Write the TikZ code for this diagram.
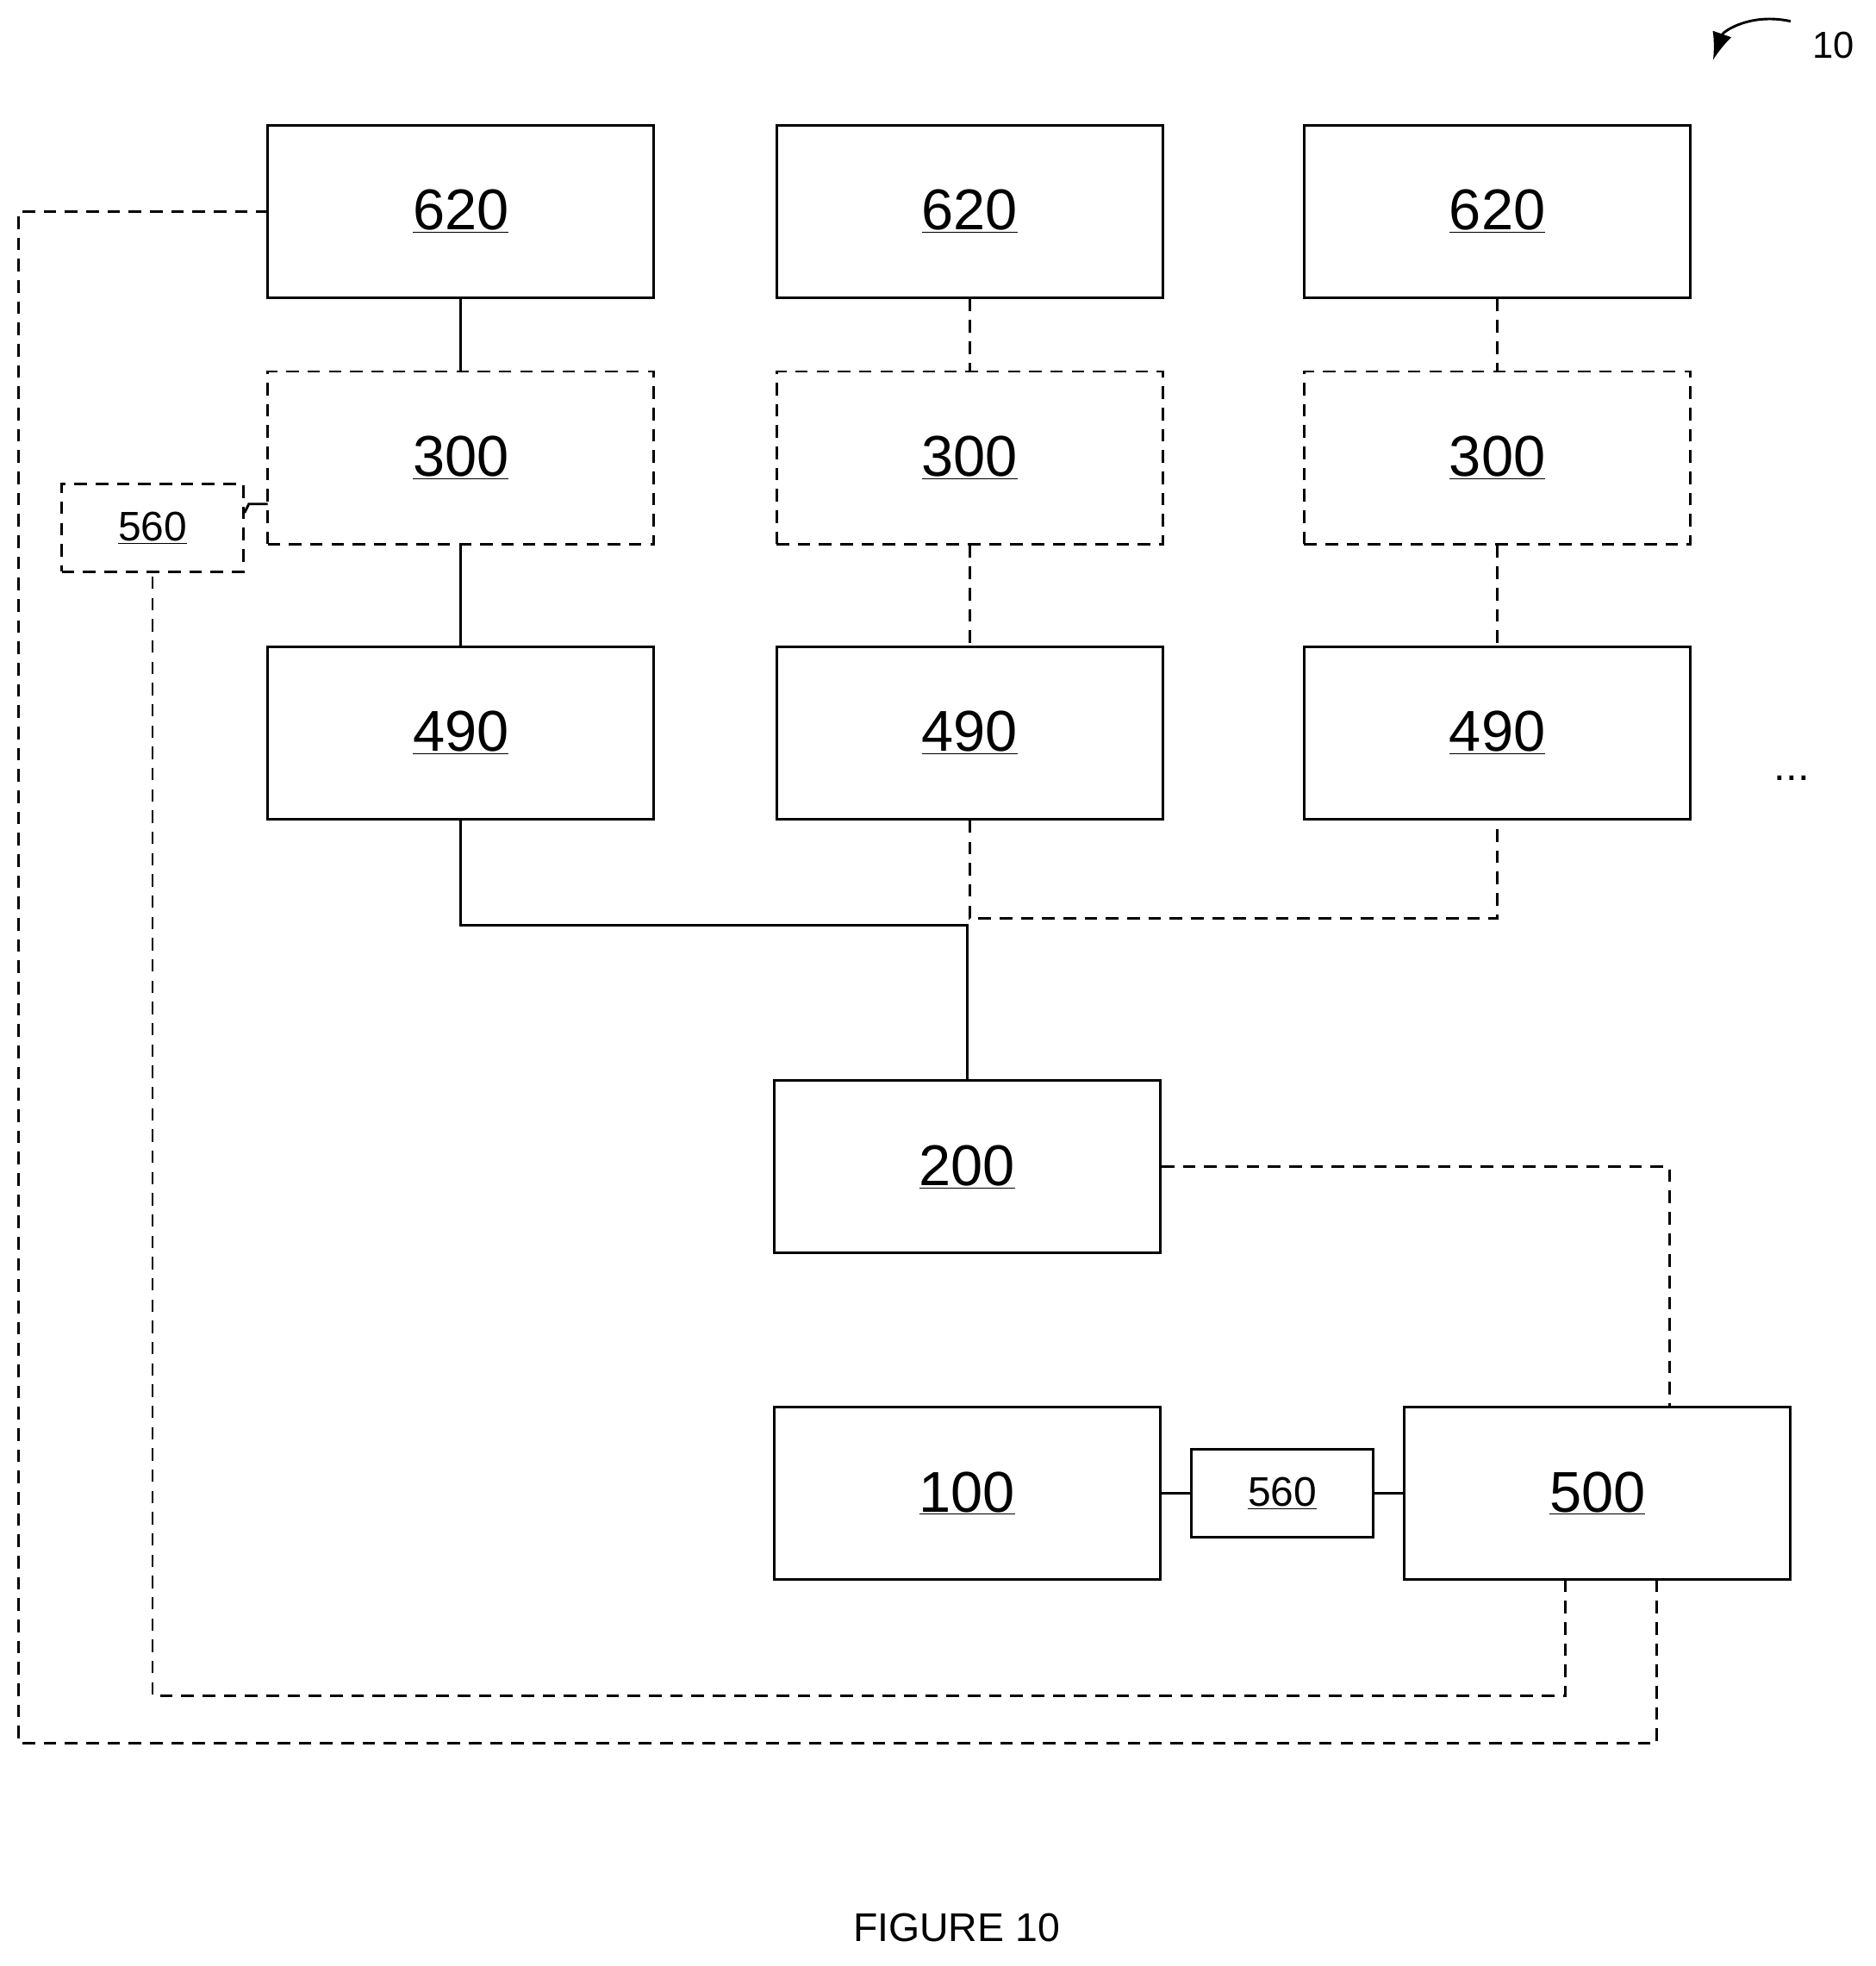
\documentclass[tikz,border=0pt]{standalone}
\usepackage{fontspec}
\usetikzlibrary{arrows.meta}
\setmainfont{Liberation Sans}
\begin{document}
\begin{tikzpicture}[x=1pt,y=-1pt,line width=2pt,
 bx/.style={draw,rectangle,minimum width=309pt,minimum height=138pt,inner sep=0,font=\fontsize{46}{50}\selectfont},
 dbx/.style={bx,dash pattern=on 10pt off 7pt},
 sm/.style={draw,rectangle,minimum width=145pt,minimum height=70pt,inner sep=0,font=\fontsize{33}{36}\selectfont},
 dl/.style={dash pattern=on 10pt off 7pt}]
\useasboundingbox (0,0) rectangle (1500,1572);
\foreach \n/\x in {a/368.5,b/775.5,c/1197.5}{
 \node[bx] (t\n) at (\x,169) {\underline{620}};
 \node[dbx] (m\n) at (\x,366) {\underline{300}};
 \node[bx] (b\n) at (\x,586) {\underline{490}};
}
\node[sm,dl] (s1) at (122,422) {\underline{560}};
\node[bx] (n200) at (773.5,933) {\underline{200}};
\node[bx] (n100) at (773.5,1194) {\underline{100}};
\node[sm] (s2) at (1025.5,1194) {\underline{560}};
\node[bx] (n500) at (1277.5,1194) {\underline{500}};
\draw (ta) -- (ma); \draw (ma) -- (ba);
\draw[dl] (tb) -- (mb); \draw[dl] (mb) -- (bb);
\draw[dl] (tc) -- (mc); \draw[dl] (mc) -- (bc);
\draw (ba.south) -- (368.5,740) -- (773.5,740) -- (n200.north);
\draw[dl] (bb.south) -- (775.5,734) -- (1197.5,734) -- (bc.south);
\draw[dl] (n200.east) -- (1335,933) -- (1335,1125);
\draw (n100) -- (s2); \draw (s2) -- (n500);
\coordinate (p1) at (1252,1263);
\draw[dl] (p1) -- (1252,1356) -- (122,1356) -- (s1.south);
\coordinate (p2) at (1325,1263);
\draw[dl] (p2) -- (1325,1394) -- (15,1394) -- (15,169) -- (ta.west);
\draw (s1.east |- 0,410) -- (199,403) -- (214,403);
\node[font=\fontsize{34}{36}\selectfont] (dots) at (1433,622) {...};
\node[font=\fontsize{30}{32}\selectfont] (ten) at (1466,36) {10};
\draw[-{Latex[length=22pt,width=16pt]},line width=2pt] (1432,17) .. controls (1400,10) and (1378,25) .. (1370,48);
\node[font=\fontsize{32}{34}\selectfont] (fig) at (765,1541) {FIGURE 10};
\end{tikzpicture}
\end{document}
